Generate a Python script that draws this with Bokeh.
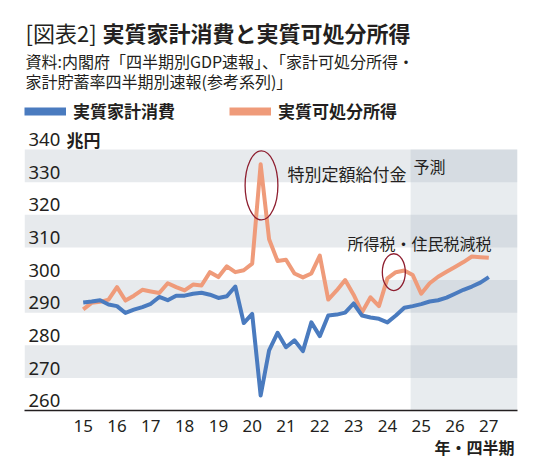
from bokeh.plotting import figure
from bokeh.models import Range1d, FixedTicker, Legend, LegendItem, ColumnDataSource, Label, Title
from bokeh.core.properties import value
from bokeh.embed import file_html
from bokeh.resources import INLINE

# ---------------- data ----------------
years = [2015, 2016, 2017, 2018, 2019, 2020, 2021, 2022, 2023, 2024, 2025, 2026, 2027]
year_labels = ["15", "16", "17", "18", "19", "20", "21", "22", "23", "24", "25", "26", "27"]
quarters = [f"{y}Q{q}" for y in years for q in (1, 2, 3, 4)][:49]   # 2015Q1 .. 2027Q1
y_ticks = [260, 270, 280, 290, 300, 310, 320, 330, 340]
y_unit = "兆円"

# 実質家計消費 (兆円)
consumption = [293.1, 293.4, 293.8, 292.5, 292.0, 289.9, 290.9, 291.7, 292.7, 294.8,
               293.8, 295.2, 295.2, 295.8, 296.1, 295.5, 294.5, 295.0, 298.0, 286.8,
               289.6, 264.6, 278.4, 283.8, 279.4, 281.5, 278.2, 287.0, 282.8, 289.1,
               289.4, 290.0, 292.8, 289.1, 288.5, 288.1, 287.0, 289.1, 291.5, 292.0,
               292.6, 293.4, 293.8, 294.6, 295.8, 297.0, 298.0, 299.2, 300.9]
# 実質可処分所得 (兆円)
income = [291.0, 293.0, 293.3, 294.0, 297.8, 293.7, 295.2, 297.0, 296.5, 296.0,
          299.0, 297.8, 296.8, 298.6, 298.3, 302.4, 300.9, 304.2, 302.4, 303.0,
          305.0, 335.5, 312.5, 305.8, 306.2, 302.0, 300.8, 302.0, 307.5, 294.0,
          296.8, 300.0, 295.5, 290.1, 294.7, 292.0, 300.5, 302.4, 302.9, 301.5,
          295.8, 299.0, 301.0, 302.5, 304.0, 305.5, 307.2, 307.0, 306.8]

forecast_from = "2024Q4"
series_names = ["実質家計消費", "実質可処分所得"]
series_colors = ["#4a7bbf", "#ef9b7a"]

title_tag = "[図表2]"
title_text = "実質家計消費と実質可処分所得"
source_line1 = "資料:内閣府「四半期別GDP速報」、「家計可処分所得・"
source_line2 = "家計貯蓄率四半期別速報(参考系列)」"
x_axis_title = "年・四半期"
note_benefit = "特別定額給付金"
note_forecast = "予測"
note_taxcut = "所得税・住民税減税"

# ---------------- layout (pixels of the 524x458 canvas) ----------------
W, H = 524, 458
FL, FR, FB = 24, 517, 410          # frame left / right / bottom; frame top = 0
PX_YEAR = 33.8                      # pixels per year
PX_UNIT = 3.2625                    # pixels per 兆円
X0 = years[0] - (82.7 - FL) / PX_YEAR
X1 = X0 + (FR - FL) / PX_YEAR
Y0 = y_ticks[0]
Y1 = Y0 + FB / PX_UNIT


def dx(px):
    return X0 + (px - FL) / PX_YEAR


def dy(py):
    return Y0 + (FB - py) / PX_UNIT


qx = [int(s[:4]) + (int(s[5]) - 1) / 4 for s in quarters]
fc_start = qx[quarters.index(forecast_from)] - 0.0625

JP = "Noto Sans CJK JP"
TXT = "#231f20"

p = figure(width=W, height=H, x_range=Range1d(X0, X1), y_range=Range1d(Y0, Y1),
           output_backend="svg", toolbar_location=None, title=None, y_axis_location=None,
           min_border_left=FL, min_border_right=W - FR, min_border_top=0,
           min_border_bottom=H - FB)
p.outline_line_color = None
p.grid.visible = False
p.background_fill_color = "white"
p.border_fill_color = "white"

# alternating bands
band_bottom = y_ticks[1::2]
band_top = y_ticks[2::2]
p.quad(left=[X0] * len(band_bottom), right=[X1] * len(band_bottom),
       bottom=band_bottom, top=band_top, fill_color="#e7eaed", line_color=None)
# forecast shading
p.quad(left=[fc_start], right=[X1], bottom=[y_ticks[0]], top=[y_ticks[-1]],
       fill_color="#aabac5", fill_alpha=0.27, line_color=None)

# series lines
src = ColumnDataSource(dict(x=qx, c=consumption, i=income))
r_inc = p.line("x", "i", source=src, line_color=series_colors[1], line_width=4, line_join="round")
r_con = p.line("x", "c", source=src, line_color=series_colors[0], line_width=4, line_join="round")
# hidden twins, only used for the thicker legend swatches
sw_con = p.line("x", "c", source=src, line_color=series_colors[0], line_width=8, visible=False)
sw_inc = p.line("x", "i", source=src, line_color=series_colors[1], line_width=8, visible=False)

legend = Legend(items=[LegendItem(label=series_names[0], renderers=[sw_con]),
                       LegendItem(label=series_names[1], renderers=[sw_inc])],
                location=(0, 287), orientation="horizontal", margin=0, padding=0,
                spacing=54, glyph_width=42, glyph_height=20, label_standoff=7,
                label_text_font=JP, label_text_font_size="17px", label_text_font_style="bold",
                label_text_color=TXT, border_line_color=None, background_fill_alpha=0,
                inactive_fill_alpha=0)
p.add_layout(legend)

# y tick labels drawn inside the frame, sitting on their gridlines
p.text(x=[dx(28)] * len(y_ticks), y=[v + 3.0 for v in y_ticks], text=[str(v) for v in y_ticks],
       text_font=value("Noto Sans"), text_font_size="18.5px", text_color=TXT,
       text_align="left", text_baseline="alphabetic")
p.text(x=[dx(66)], y=[y_ticks[-1] + 3.0], text=[y_unit], text_font=value(JP),
       text_font_size="17px", text_font_style="bold", text_color=TXT,
       text_align="left", text_baseline="alphabetic")

# highlight ellipses
k1 = quarters.index("2020Q2")
k2 = quarters.index("2024Q2")
p.ellipse(x=[qx[k1] + 0.025, qx[k2] - 0.06], y=[income[k1] - 6.5, income[k2]],
          width=[0.97, 0.68], height=[21.2, 11.3],
          fill_color=None, line_color="#8e1f30", line_width=1.3)

# notes
p.text(x=[dx(287)], y=[dy(173)], text=[note_benefit], text_font=value(JP), text_font_size="17px",
       text_color=TXT, text_align="left", text_baseline="middle")
p.text(x=[dx(413)], y=[dy(165)], text=[note_forecast], text_font=value(JP), text_font_size="16px",
       text_color=TXT, text_align="left", text_baseline="middle")
p.text(x=[dx(347)], y=[dy(242)], text=[note_taxcut], text_font=value(JP), text_font_size="16px",
       text_color=TXT, text_align="left", text_baseline="middle")

# x axis
xa = p.xaxis[0]
xa.ticker = FixedTicker(ticks=years)
xa.major_label_overrides = {y: l for y, l in zip(years, year_labels)}
xa.axis_line_color = TXT
xa.axis_line_width = 1.5
xa.major_tick_line_color = None
xa.minor_tick_line_color = None
xa.major_tick_in = 0
xa.major_tick_out = 0
xa.major_label_standoff = 9
xa.major_label_text_font = "Noto Sans"
xa.major_label_text_font_size = "17px"
xa.major_label_text_color = TXT

p.add_layout(Title(text=x_axis_title, align="right", offset=3, standoff=-3, text_font=JP,
                   text_font_size="16px", text_font_style="bold", text_color=TXT), "below")

# header labels
p.add_layout(Label(x=dx(25), y=dy(31), text=title_tag, text_font=JP, text_font_size="22px",
                   text_color=TXT, text_baseline="middle"))
p.add_layout(Label(x=dx(102), y=dy(31), text=title_text, text_font=JP, text_font_size="22px",
                   text_font_style="bold", text_color=TXT, text_baseline="middle"))
p.add_layout(Label(x=dx(25), y=dy(60), text=source_line1, text_font=JP, text_font_size="16px",
                   text_color=TXT, text_baseline="middle"))
p.add_layout(Label(x=dx(25), y=dy(80), text=source_line2, text_font=JP, text_font_size="16px",
                   text_color=TXT, text_baseline="middle"))

open("out.html", "w").write(file_html(p, INLINE))
